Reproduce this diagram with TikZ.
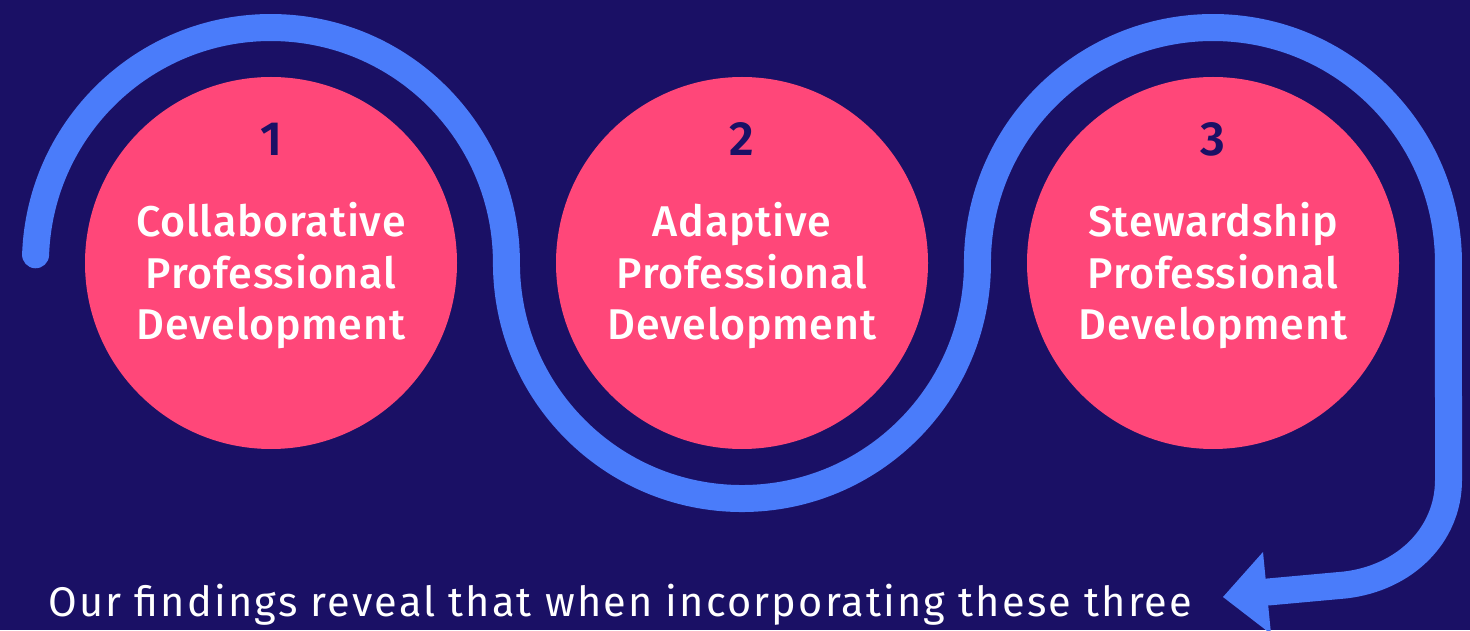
\documentclass[tikz,border=0pt]{standalone}
\usepackage{fontspec}
\setmainfont{Fira Sans}
\newfontfamily\medfont{Fira Sans Medium}[LetterSpace=1.8]
\newfontfamily\numfont{Fira Sans SemiBold}
\newfontfamily\capfont{Fira Sans}[LetterSpace=5.2]
\definecolor{navy}{RGB}{26,16,101}
\definecolor{pathblue}{RGB}{74,124,250}
\definecolor{rose}{RGB}{255,71,121}
\tikzset{
  disc/.style={circle, fill=rose, minimum size=372pt, inner sep=0pt},
  stepnum/.style={font=\numfont\fontsize{48}{52}\selectfont, text=navy, anchor=base},
  steptext/.style={font=\medfont\fontsize{43}{52}\selectfont, text=white, align=center, anchor=base},
  flow/.style={draw=pathblue, line width=27pt, line cap=round},
  caption/.style={font=\capfont\fontsize{41.5}{48}\selectfont, text=white, anchor=base west}
}
\begin{document}
\begin{tikzpicture}[x=1pt,y=1pt]
  % background and page size
  \fill[navy] (0,0) rectangle (1470,630);
  \useasboundingbox (0,0) rectangle (1470,630);

  % winding track around the three steps, ending in an arrow
  \coordinate (trackstart) at (35.6,375.2);
  \coordinate (trackend) at (1268,38);
  \draw[flow] (trackstart)
    arc[start angle=178, end angle=0, radius=235.5]
    arc[start angle=180, end angle=360, radius=235.5]
    arc[start angle=180, end angle=0, radius=235.5]
    -- (1448.5,150)
    .. controls (1448.5,95) and (1405,52) .. (1345,45)
    -- (trackend);
  \fill[pathblue] (1223,33) -- (1263,78) -- (1271,-4) -- cycle;

  % the three steps
  \node[disc] (c1) at (271,367) {};
  \node[disc] (c2) at (742,367) {};
  \node[disc] (c3) at (1213,367) {};

  \node[stepnum] (n1) at (271,474) {1};
  \node[stepnum] (n2) at (742,474) {2};
  \node[stepnum] (n3) at (1213,474) {3};

  % text blocks: the base anchor sits on the last line
  \node[steptext] (t1) at (271,290) {Collaborative\\Professional\\Development};
  \node[steptext] (t2) at (742,290) {Adaptive\\Professional\\Development};
  \node[steptext] (t3) at (1213,290) {Stewardship\\Professional\\Development};

  % summary line
  \node[caption] (cap) at (45,14) {Our findings reveal that when incorporating these three};
\end{tikzpicture}
\end{document}
